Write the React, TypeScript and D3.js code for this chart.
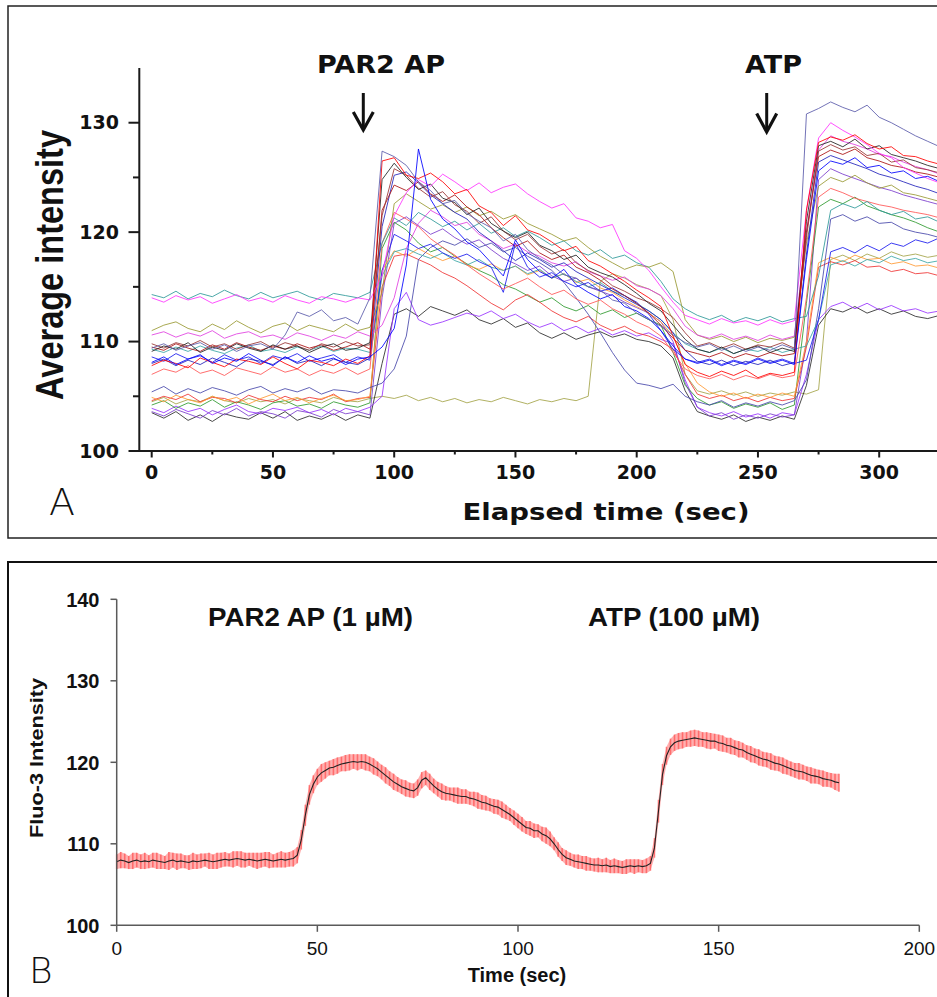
import React from "react";
import * as d3 from "d3";

// ---------- Panel A data (sampled every 5 s, t = 0 … 325) ----------
const A_STEP = 5;
const tr01 = [109.4,109.8,109.2,109.6,109.9,109.3,109.7,109.1,109.6,109.8,109.3,
  110.6,112.7,112.3,112.9,111.9,112.2,111.6,114.0,
  127.4,126.9,126.1,124.6,123.8,122.6,122.9,121.7,121.0,120.4,119.2,119.8,118.4,117.6,117.0,116.1,115.8,115.0,114.7,113.8,113.5,112.6,
  112.0,111.4,110.6,109.9,109.5,109.8,109.2,109.6,109.1,109.5,109.2,109.7,109.3,
  130.8,131.3,131.9,131.4,131.0,131.6,130.5,130.0,129.4,128.8,128.3,127.8];
const tr02 = [108.1,108.6,107.9,108.4,108.8,108.0,108.5,108.2,108.9,108.3,107.8,108.6,108.1,108.7,108.2,108.5,107.9,108.4,108.6,
  109.5,111.2,117.0,127.6,
  123.0,121.2,120.3,119.1,118.4,117.2,116.0,119.3,117.5,116.4,115.8,116.6,115.2,114.5,113.9,114.3,113.2,112.8,
  112.1,111.0,109.6,108.4,108.0,108.3,107.8,108.2,107.9,108.4,108.0,108.3,107.9,
  117.5,125.6,126.5,126.2,126.8,125.9,126.1,125.4,125.6,124.9,125.1,124.6];
const tr03 = [107.8,108.3,108.0,107.6,108.5,108.1,107.7,108.4,108.2,107.9,108.6,108.0,107.5,108.3,108.1,107.8,108.4,108.0,108.7,
  126.5,126.8,125.2,124.9,125.4,124.6,123.5,123.9,122.4,121.8,120.6,121.5,120.2,119.8,119.1,118.3,118.7,117.4,116.9,116.2,115.5,114.7,
  114.0,113.2,110.5,107.9,107.2,106.8,107.3,106.9,107.4,106.7,107.1,106.9,107.2,
  122.0,128.2,128.7,128.4,128.9,128.1,127.6,127.8,127.0,126.9,126.5,126.2];
const tr04 = [109.1,109.6,109.3,109.9,109.0,109.5,109.2,109.8,109.4,109.1,109.7,109.3,109.6,109.0,109.5,109.8,109.2,109.4,109.9,
  124.8,126.3,125.0,123.9,124.4,123.1,122.7,121.6,122.2,120.8,120.1,119.5,120.0,118.8,118.3,117.5,117.9,116.8,116.3,115.9,115.2,114.4,
  113.5,112.8,111.5,110.2,109.3,109.0,109.5,108.9,109.3,109.6,109.0,109.4,109.1,
  121.0,127.9,128.3,127.8,128.5,127.6,127.9,127.1,126.8,126.5,126.1,125.8];
const tr05 = [109.8,109.4,109.9,109.6,110.1,109.5,109.8,109.3,109.7,110.0,109.4,109.9,109.6,109.2,109.8,109.5,110.0,109.6,109.7,
  121.5,125.8,125.2,124.0,123.2,123.7,122.5,121.9,120.8,121.4,120.1,119.3,119.8,118.7,118.0,118.4,117.2,116.5,116.0,115.1,114.6,114.0,
  113.6,113.0,112.2,110.8,109.6,109.9,109.4,109.8,109.3,109.7,109.5,109.9,109.4,
  119.5,127.4,128.0,127.5,127.8,127.0,127.2,126.4,126.6,125.9,125.7,125.4];
const tr06 = [114.0,113.6,114.2,113.8,114.1,113.5,113.9,114.3,113.7,114.0,113.6,114.2,113.8,113.5,114.1,113.9,113.6,114.0,113.8,
  116.0,121.5,123.6,124.8,124.2,125.3,124.6,123.8,124.5,123.6,124.1,124.4,123.5,122.8,122.2,122.6,121.3,121.0,120.4,120.7,118.3,117.6,
  116.5,115.0,113.6,112.4,112.0,111.6,112.1,111.7,111.9,111.5,112.0,111.6,111.9,
  122.0,128.6,130.0,129.3,128.7,128.0,127.2,126.8,125.9,125.4,124.9,124.5];
const tr07 = [114.3,114.0,114.6,113.9,114.4,114.1,114.7,114.2,113.9,114.5,114.0,114.3,114.6,114.1,113.8,114.4,114.2,114.0,114.5,
  119.0,121.3,120.6,121.8,121.2,120.5,121.0,120.2,120.8,119.9,120.4,119.6,120.1,119.5,118.8,119.2,118.3,117.9,118.4,117.6,117.9,117.2,
  116.8,115.5,113.9,113.0,112.4,112.0,112.4,111.8,112.2,111.9,112.3,111.8,112.1,
  112.3,116.0,122.0,122.6,122.2,122.8,122.0,121.6,121.9,121.2,121.4,120.9];
const tr08 = [111.0,111.5,111.8,111.2,110.9,111.6,111.1,111.9,111.3,110.8,111.4,111.7,111.0,111.5,111.2,110.9,111.6,111.0,111.3,
  114.5,122.6,123.5,122.8,122.1,122.5,121.8,122.3,121.5,121.9,121.2,121.6,120.8,120.3,119.8,119.2,119.5,118.6,117.8,117.2,116.6,117.0,
  116.8,117.2,116.4,112.0,110.6,110.2,110.5,110.0,110.4,109.9,110.3,110.1,110.4,
  119.0,124.2,125.0,124.6,125.2,124.5,124.0,124.3,123.6,123.4,123.1,122.8];
const tr09 = [110.6,110.9,110.4,110.8,110.5,111.0,110.3,110.7,110.9,110.4,110.6,110.2,110.8,110.5,110.1,110.6,110.3,110.9,110.5,
  111.5,114.0,118.5,120.8,122.0,121.4,120.6,120.9,119.8,119.2,118.5,118.9,118.2,117.8,117.2,116.9,117.3,116.4,116.0,115.6,115.9,115.1,
  114.8,114.2,113.0,111.4,110.6,110.3,110.7,110.2,110.5,110.1,110.6,110.2,110.5,
  120.0,127.5,128.8,128.3,128.0,127.6,127.1,126.9,126.4,126.0,125.7,125.3];
const tr10 = [104.2,104.6,103.9,104.4,104.1,104.7,104.0,104.5,104.2,103.8,104.4,104.6,104.1,104.3,103.9,104.5,104.2,104.0,104.4,
  118.5,120.9,120.2,119.0,118.2,118.6,117.8,117.1,116.5,116.0,115.2,114.8,114.2,113.6,114.0,113.2,112.8,113.3,112.5,112.9,112.2,112.6,
  112.0,111.5,109.0,106.0,104.8,104.2,104.5,103.9,104.3,104.0,104.4,103.8,104.2,
  113.5,122.3,123.0,122.6,123.2,122.4,122.0,121.6,121.3,120.9,120.4,120.0];
const tr11 = [105.4,105.9,105.2,105.7,105.3,105.8,105.5,105.1,105.6,105.9,105.3,105.7,105.4,105.8,105.2,105.6,105.5,105.3,105.8,
  106.2,107.5,110.5,117.5,118.6,119.2,118.8,119.4,118.6,119.0,118.2,118.6,117.8,117.2,116.5,115.4,114.0,112.5,110.8,109.0,107.4,106.2,
  106.0,105.7,106.1,105.0,104.5,104.2,104.6,104.0,104.4,104.1,104.5,104.2,104.6,
  106.5,113.0,121.2,121.6,121.0,121.4,120.8,120.9,120.3,120.0,119.8,119.5];
const tr12 = [108.6,108.2,108.9,108.4,108.7,108.1,108.8,108.3,108.6,108.0,108.7,108.4,108.9,108.2,108.5,108.8,108.1,108.6,108.3,
  116.5,119.8,119.2,118.5,118.9,118.1,117.6,118.0,117.3,116.8,114.5,119.0,116.8,115.9,116.3,115.5,115.0,115.4,114.6,114.9,114.2,113.6,
  112.5,111.0,109.3,108.4,108.1,108.4,107.9,108.3,108.0,108.5,108.1,108.4,108.0,
  108.3,112.0,118.2,118.6,118.1,118.8,118.3,119.0,118.7,119.3,119.0,119.5];
const tr13 = [104.9,104.5,105.1,104.7,104.4,105.0,104.6,104.9,104.3,104.8,105.2,104.6,104.9,104.4,104.8,105.1,104.6,104.7,105.0,
  116.5,118.3,117.8,118.5,117.9,117.4,117.8,117.0,116.6,117.1,116.5,116.9,116.1,116.5,115.8,116.2,115.4,115.7,114.9,114.5,113.8,113.2,
  112.6,111.8,110.5,108.0,106.2,105.4,105.0,105.3,104.8,105.2,104.9,105.3,105.0,
  110.0,117.2,117.7,117.3,117.9,117.5,117.6,117.1,117.3,116.9,117.0,116.7];
const tr14 = [104.6,105.0,104.7,105.2,104.5,104.9,104.8,104.4,105.1,104.7,104.5,105.0,104.6,104.9,104.7,105.2,104.5,104.8,104.9,
  115.0,117.8,118.0,117.5,117.0,116.3,115.8,115.1,114.3,113.5,112.9,113.8,114.3,113.6,112.8,112.2,111.8,112.3,111.5,111.0,111.4,110.8,
  110.5,110.0,109.3,107.0,105.2,104.8,105.1,104.6,104.9,104.5,104.9,104.6,104.8,
  109.5,116.8,117.3,117.0,117.4,116.8,116.9,116.4,116.6,116.2,116.3,116.0];
const tr15 = [109.3,109.0,109.5,109.1,109.6,109.2,108.9,109.4,109.7,109.1,109.3,109.0,109.5,109.2,109.6,109.1,109.4,109.3,109.0,
  116.0,118.2,118.5,118.0,117.6,118.1,117.4,117.0,117.5,116.8,116.5,116.9,116.2,116.6,115.8,116.2,115.5,115.0,115.4,114.6,114.2,113.5,
  112.8,112.0,110.8,109.8,109.3,109.0,109.4,108.9,109.3,109.1,109.5,109.0,109.3,
  109.6,112.0,117.0,117.4,116.9,117.5,117.2,117.8,117.4,117.6,117.2,117.4];
const tr16 = [103.9,103.5,104.1,103.6,103.9,103.3,103.8,104.2,103.6,103.4,103.9,103.7,104.0,103.5,103.8,103.3,103.9,103.6,104.0,
  105.0,113.0,114.5,112.0,111.5,111.8,112.2,112.6,112.3,112.8,112.1,112.5,111.8,111.3,111.7,111.0,111.4,110.8,111.2,110.6,111.0,110.5,
  110.8,110.2,109.8,106.5,104.0,103.5,103.2,103.6,103.1,103.4,103.0,103.5,103.3,
  107.0,112.0,113.2,113.6,113.0,113.5,112.9,113.3,112.8,113.0,112.6,112.8];
const tr17 = [103.5,103.0,103.6,102.8,103.3,102.7,103.4,103.1,102.9,103.5,103.0,103.6,102.8,103.2,102.9,103.4,102.8,103.3,103.0,
  108.0,112.5,113.0,112.3,113.2,112.8,112.4,112.9,112.0,111.6,112.1,111.3,111.7,110.8,110.3,110.8,110.2,110.6,110.9,110.4,110.7,110.2,
  110.0,109.6,108.5,105.5,103.6,103.2,102.9,103.3,102.7,103.1,102.8,103.2,102.9,
  106.0,111.5,113.0,112.7,113.2,112.6,113.0,112.5,112.8,112.3,112.1,112.4];
const tr18 = [104.5,104.9,104.3,104.7,104.5,105.0,104.6,104.4,104.8,104.5,104.7,104.3,104.8,104.6,104.4,104.9,104.6,104.5,104.8,
  105.0,104.8,105.1,104.6,104.9,104.5,104.8,104.4,104.7,104.5,104.9,104.6,104.3,104.7,104.5,104.8,104.6,105.0,115.5,116.2,115.8,115.2,
  114.8,114.2,112.0,107.0,105.5,105.2,105.5,105.1,105.4,105.0,105.3,105.1,105.4,
  105.2,105.6,117.5,117.9,117.4,118.0,117.6,118.2,117.8,118.0,117.7,117.9];
const tr19 = [109.5,109.2,109.8,109.4,109.1,109.7,109.3,109.9,109.5,109.2,109.6,109.3,109.8,109.4,109.7,109.2,109.5,109.9,109.3,
  122.0,124.3,123.8,124.6,123.5,122.8,123.4,122.3,121.6,120.4,119.5,118.7,119.2,118.1,117.5,117.9,116.8,116.3,115.6,114.8,114.2,113.5,
  112.6,111.5,110.3,109.2,108.9,108.6,109.0,108.5,108.9,108.6,109.0,108.7,108.9,
  120.0,126.9,127.5,127.1,127.6,126.8,126.5,126.1,125.9,125.5,125.3,125.0];
const tr20 = [103.6,103.2,103.8,103.4,103.0,103.7,103.3,103.9,103.2,103.6,103.4,103.0,103.7,103.5,103.1,103.8,103.4,103.6,103.3,
  114.0,120.8,121.4,120.6,119.8,120.3,119.5,118.9,119.3,118.4,117.6,117.1,116.5,116.9,116.0,115.5,115.8,115.0,114.6,114.2,113.6,113.1,
  112.6,111.8,110.0,106.2,104.0,103.2,103.5,102.9,103.3,103.0,103.4,103.1,103.3,
  110.0,124.8,125.8,125.3,124.9,124.5,124.1,123.8,123.4,123.1,122.8,122.5];
const tr21 = [108.0,108.4,107.8,108.3,107.9,108.5,108.1,107.7,108.4,108.2,107.9,108.6,108.0,108.3,107.8,108.4,108.1,107.9,108.5,
  120.5,125.2,125.5,124.5,123.4,122.6,121.8,121.2,120.0,119.2,118.3,117.4,118.1,117.5,116.8,117.2,116.4,115.8,115.2,114.6,114.0,113.4,
  112.8,112.0,110.8,109.2,108.2,107.9,108.3,107.8,108.2,107.9,108.3,107.8,108.1,
  118.0,126.4,127.0,126.6,126.2,125.8,125.3,125.0,124.6,124.2,123.9,123.5];
const tr22 = [107.0,107.5,107.2,107.8,107.1,107.4,106.9,107.6,107.3,107.0,107.7,107.2,107.5,106.9,107.4,107.1,107.6,107.0,107.5,
  119.0,121.8,121.2,120.5,119.4,118.6,117.9,117.0,116.2,115.5,114.8,115.3,115.8,115.0,114.3,114.7,113.9,113.4,113.8,113.0,112.5,111.8,
  111.3,110.5,109.0,107.5,106.9,106.6,107.0,106.5,106.9,106.6,107.0,106.7,106.9,
  114.0,123.2,124.0,123.6,123.1,122.8,122.5,122.3,122.0,121.8,121.6,121.3];

const tracesA = [tr18, tr17, tr16, tr20, tr10, tr14, tr13, tr11, tr15, tr12, tr22, tr07, tr08, tr09, tr21, tr19, tr05, tr04, tr06, tr03, tr02, tr01];
const traceColorsA = ["#a3a348", "#2a2a2a", "#9933ff", "#7a3ccc", "#2f9a2f", "#ee3333", "#ff9933", "#4848aa", "#3aa6a6", "#1a1aee", "#ff5555", "#2e9999", "#999933", "#e040e0", "#2222bb", "#aa1111", "#993333", "#222222", "#ff33ff", "#ff0000", "#0000ff", "#5a5aaa"];

const yTicksA = [100, 110, 120, 130];
const yMinorA = [105, 115, 125];
const xTicksA = [0, 50, 100, 150, 200, 250, 300];
const xMinorA = [25, 75, 125, 175, 225, 275];

// ---------- Panel B data (mean ± SEM, every 1 s, t = 0 … 180) ----------
const B_STEP = 1;
const meanB = [
  107.8,108.0,107.9,107.7,107.9,108.0,107.8,107.9,107.8,108.0,
  107.9,107.8,107.7,107.9,108.0,107.8,107.9,107.8,107.7,107.9,
  107.8,107.9,108.0,107.9,107.8,107.9,108.0,108.1,108.0,108.1,
  108.2,108.1,108.0,108.1,108.0,107.9,108.0,108.1,108.0,107.9,
  108.0,108.1,108.0,108.1,108.2,108.6,110.5,113.5,116.0,117.3,
  118.2,118.7,119.0,119.3,119.4,119.6,119.8,119.9,120.0,120.1,
  120.0,120.1,120.0,119.8,119.5,119.2,118.8,118.4,118.0,117.6,
  117.3,117.0,116.8,116.6,116.5,116.9,117.8,118.1,117.6,117.1,
  116.7,116.4,116.2,116.1,116.0,115.9,115.8,115.8,115.6,115.5,
  115.3,115.1,115.0,114.8,114.6,114.5,114.2,113.9,113.6,113.2,
  112.8,112.4,112.0,111.9,111.6,111.6,111.2,111.0,110.6,110.0,
  109.3,108.7,108.3,108.1,107.9,107.8,107.7,107.6,107.5,107.4,
  107.4,107.3,107.4,107.2,107.3,107.2,107.1,107.2,107.3,107.2,
  107.3,107.2,107.3,107.6,109.5,114.0,118.5,120.8,121.9,122.4,
  122.6,122.7,122.8,122.9,123.0,122.9,122.8,122.7,122.6,122.6,
  122.4,122.3,122.1,122.0,121.8,121.6,121.5,121.2,121.0,120.8,
  120.6,120.4,120.3,120.1,119.9,119.8,119.6,119.4,119.2,119.0,
  118.9,118.8,118.6,118.4,118.3,118.2,118.0,117.9,117.8,117.6,
  117.5];
const semB = [
  0.9,1.0,0.9,0.8,1.0,0.9,0.9,1.0,0.8,0.9,1.0,0.9,0.8,1.1,0.9,1.0,0.9,0.8,0.9,1.0,
  0.9,0.9,0.8,1.0,0.9,1.0,0.9,0.9,0.8,1.0,0.9,1.0,0.9,0.8,0.9,1.0,0.9,0.9,1.0,0.8,
  0.9,1.0,0.9,0.9,1.0,
  1.0,1.2,1.3,1.2,1.1,1.0,1.1,1.0,0.9,1.0,1.0,0.9,1.0,1.0,0.9,1.0,
  0.9,1.0,0.9,1.0,0.9,0.9,1.0,0.9,1.0,0.9,0.9,1.0,0.9,0.9,1.0,1.0,0.9,1.0,0.9,0.9,
  1.0,0.9,0.8,0.9,1.0,0.9,0.9,0.8,0.9,1.0,0.9,0.9,0.8,0.9,0.9,1.0,0.9,0.8,0.9,0.9,
  0.9,0.8,0.9,0.9,0.8,0.9,1.0,0.9,0.8,0.9,0.8,0.9,0.8,0.8,0.9,0.8,0.9,0.8,0.8,0.9,
  0.8,0.9,0.8,0.9,0.8,0.8,0.9,0.8,0.9,0.8,0.8,0.9,0.9,1.2,1.4,1.3,1.1,1.0,1.0,1.0,
  1.0,0.9,1.0,1.0,1.0,0.9,1.0,1.0,0.9,1.0,1.0,0.9,1.0,0.9,1.0,0.9,0.9,1.0,0.9,1.0,
  0.9,0.9,1.0,0.9,0.9,1.0,0.9,0.9,0.9,1.0,0.9,0.9,1.0,0.9,0.9,1.0,0.9,0.9,1.0,1.1];

const yTicksB = [100, 110, 120, 130, 140];
const xTicksB = [0, 50, 100, 150, 200];

const VERD = "'DejaVu Sans', Verdana, sans-serif";
const ARIAL = "'Liberation Sans', Arial, sans-serif";

export default function App() {
  // Panel A scales
  const xA = d3.scaleLinear().domain([0, 300]).range([151.7, 879.2]);
  const yA = d3.scaleLinear().domain([100, 135]).range([451, 68]);
  const lineA = d3.line<number>().x((_, i) => xA(i * A_STEP)).y((d) => yA(d));

  // Panel B scales
  const xB = d3.scaleLinear().domain([0, 200]).range([116.7, 919.3]);
  const yB = d3.scaleLinear().domain([100, 140]).range([925.3, 599.3]);
  const nB = Math.min(meanB.length, semB.length);
  const ptsB = meanB.slice(0, nB);
  const lineB = d3.line<number>().x((_, i) => xB(i * B_STEP)).y((d) => yB(d));
  const areaB = d3
    .area<number>()
    .x((_, i) => xB(i * B_STEP))
    .y0((d, i) => yB(d - semB[i]))
    .y1((d, i) => yB(d + semB[i]));

  const axA = "#1a1a1a";
  const axB = "#5a5a5a";

  return (
    <svg width={937} height={997} style={{ position: "absolute", left: 0, top: 0, background: "#fff" }}>
      <rect x={0} y={0} width={937} height={997} fill="#fff" />
      {/* ================= Panel A ================= */}
      <rect x={8} y={6} width={945} height={532} fill="none" stroke="#222" strokeWidth={1.5} />
      <defs>
        <clipPath id="clipA">
          <rect x={139} y={60} width={800} height={392} />
        </clipPath>
      </defs>
      <g clipPath="url(#clipA)">
        {tracesA.map((tr, k) => (
          <path key={k} d={lineA(tr) || ""} fill="none" stroke={traceColorsA[k]} strokeWidth={1} strokeOpacity={0.85} strokeLinejoin="round" />
        ))}
      </g>
      {/* y axis */}
      <line x1={139.3} x2={139.3} y1={yA(135)} y2={451} stroke={axA} strokeWidth={2} />
      {yTicksA.map((v) => (
        <g key={"ya" + v}>
          <line x1={128.5} x2={139.3} y1={yA(v)} y2={yA(v)} stroke={axA} strokeWidth={2} />
          <text x={119} y={yA(v) + 6.5} textAnchor="end" fontFamily={VERD} fontWeight="bold" fontSize={19} fill="#111">{v}</text>
        </g>
      ))}
      {yMinorA.map((v) => (
        <line key={"yam" + v} x1={133} x2={139.3} y1={yA(v)} y2={yA(v)} stroke={axA} strokeWidth={2} />
      ))}
      {/* x axis */}
      <line x1={138.3} x2={937} y1={451} y2={451} stroke={axA} strokeWidth={2} />
      {xTicksA.map((v) => (
        <g key={"xa" + v}>
          <line x1={xA(v)} x2={xA(v)} y1={451} y2={457.5} stroke={axA} strokeWidth={2} />
          <text x={xA(v)} y={479} textAnchor="middle" fontFamily={VERD} fontWeight="bold" fontSize={19} fill="#111">{v}</text>
        </g>
      ))}
      {xMinorA.map((v) => (
        <line key={"xam" + v} x1={xA(v)} x2={xA(v)} y1={451} y2={454.5} stroke={axA} strokeWidth={2} />
      ))}
      <text transform="translate(63,265) rotate(-90)" textAnchor="middle" fontFamily={ARIAL} fontWeight="bold" fontSize={38} textLength={270} lengthAdjust="spacingAndGlyphs" fill="#111">Average intensity</text>
      <text x={606} y={520} textAnchor="middle" fontFamily={VERD} fontWeight="bold" fontSize={23} textLength={287} lengthAdjust="spacingAndGlyphs" fill="#111">Elapsed time (sec)</text>
      <text x={49} y={515} fontFamily={VERD} fontWeight={200} fontSize={38} fill="#111">A</text>
      {/* annotations */}
      <text x={381} y={73} textAnchor="middle" fontFamily={VERD} fontWeight="bold" fontSize={24} textLength={128} lengthAdjust="spacingAndGlyphs" fill="#111">PAR2 AP</text>
      <line x1={363.3} x2={363.3} y1={93} y2={128} stroke="#111" strokeWidth={3} />
      <path d="M353.3,112 L363.3,130 L373.3,112" fill="none" stroke="#111" strokeWidth={3.2} />
      <text x={773.5} y={73} textAnchor="middle" fontFamily={VERD} fontWeight="bold" fontSize={24} textLength={57} lengthAdjust="spacingAndGlyphs" fill="#111">ATP</text>
      <line x1={766.7} x2={766.7} y1={93} y2={130} stroke="#111" strokeWidth={3} />
      <path d="M756.7,113.5 L766.7,132 L776.7,113.5" fill="none" stroke="#111" strokeWidth={3.2} />

      {/* ================= Panel B ================= */}
      <rect x={8} y={562} width={945} height={450} fill="none" stroke="#111" strokeWidth={2} />
      <path d={areaB(ptsB) || ""} fill="#ff7070" fillOpacity={0.55} stroke="none" />
      {ptsB.map((m, i) => (
        <line key={"eb" + i} x1={xB(i * B_STEP)} x2={xB(i * B_STEP)} y1={yB(m - semB[i])} y2={yB(m + semB[i])} stroke="#ff4040" strokeOpacity={0.6} strokeWidth={1.6} />
      ))}
      <path d={lineB(ptsB) || ""} fill="none" stroke="#222" strokeWidth={1.1} />
      {/* axes */}
      <line x1={116.7} x2={116.7} y1={yB(140)} y2={yB(100)} stroke={axB} strokeWidth={1.5} />
      {yTicksB.map((v) => (
        <g key={"yb" + v}>
          <line x1={110.5} x2={116.7} y1={yB(v)} y2={yB(v)} stroke={axB} strokeWidth={1.5} />
          <text x={99.5} y={yB(v) + 7.5} textAnchor="end" fontFamily={ARIAL} fontWeight="bold" fontSize={20} fill="#111">{v}</text>
        </g>
      ))}
      <line x1={116.7} x2={xB(200)} y1={yB(100)} y2={yB(100)} stroke={axB} strokeWidth={1.5} />
      {xTicksB.map((v) => (
        <g key={"xb" + v}>
          <line x1={xB(v)} x2={xB(v)} y1={yB(100)} y2={yB(100) + 6.5} stroke={axB} strokeWidth={1.5} />
          <text x={xB(v)} y={955} textAnchor="middle" fontFamily={ARIAL} fontSize={19} fill="#111">{v}</text>
        </g>
      ))}
      <text transform="translate(43,758) rotate(-90)" textAnchor="middle" fontFamily={ARIAL} fontWeight="bold" fontSize={19} textLength={160} lengthAdjust="spacingAndGlyphs" fill="#111">Fluo-3 Intensity</text>
      <text x={517} y={982} textAnchor="middle" fontFamily={ARIAL} fontWeight="bold" fontSize={20} fill="#111">Time (sec)</text>
      <text x={310.5} y={626} textAnchor="middle" fontFamily={ARIAL} fontWeight="bold" fontSize={25} textLength={205} lengthAdjust="spacingAndGlyphs" fill="#111">PAR2 AP (1 µM)</text>
      <text x={674} y={626} textAnchor="middle" fontFamily={ARIAL} fontWeight="bold" fontSize={25} textLength={172} lengthAdjust="spacingAndGlyphs" fill="#111">ATP (100 µM)</text>
      <text x={29} y={983} fontFamily={VERD} fontWeight={200} fontSize={36} fill="#111">B</text>
    </svg>
  );
}
